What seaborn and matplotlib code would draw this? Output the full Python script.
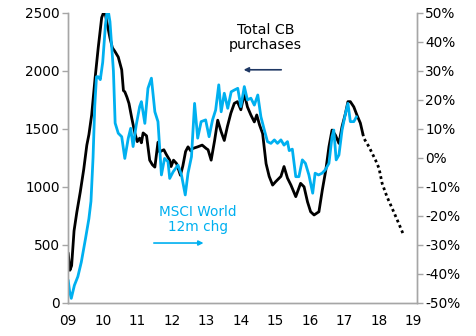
import matplotlib
matplotlib.use("Agg")
import matplotlib.pyplot as plt
import seaborn as sns
import pandas as pd
from matplotlib.ticker import FuncFormatter

# ---- data ----
cb_x = [2009.00, 2009.05, 2009.10, 2009.17, 2009.25, 2009.35, 2009.45, 2009.54, 2009.60,
        2009.68, 2009.78, 2009.87, 2009.97, 2010.02, 2010.07, 2010.14, 2010.21, 2010.28,
        2010.35, 2010.45, 2010.55, 2010.60, 2010.64, 2010.70, 2010.76, 2010.84, 2010.93,
        2011.00, 2011.07, 2011.12, 2011.17, 2011.27, 2011.36, 2011.44, 2011.51, 2011.60,
        2011.65, 2011.70, 2011.77, 2011.84, 2011.94, 2011.98, 2012.05, 2012.14, 2012.25,
        2012.32, 2012.40, 2012.47, 2012.55, 2012.60, 2012.75, 2012.88, 2013.00, 2013.05,
        2013.14, 2013.24, 2013.33, 2013.43, 2013.52, 2013.61, 2013.71, 2013.81, 2013.90,
        2014.00, 2014.10, 2014.19, 2014.29, 2014.39, 2014.46, 2014.54, 2014.63, 2014.73,
        2014.82, 2014.92, 2015.01, 2015.16, 2015.25, 2015.35, 2015.45, 2015.59, 2015.73,
        2015.83, 2015.93, 2016.02, 2016.12, 2016.26, 2016.36, 2016.46, 2016.55, 2016.64,
        2016.74, 2016.84, 2016.93, 2017.03, 2017.10, 2017.17, 2017.27, 2017.36, 2017.46,
        2017.53]
cb_val = [430, 280, 320, 620, 780, 955, 1150, 1360, 1450,
          1620, 1940, 2200, 2460, 2500, 2500, 2390, 2285, 2200,
          2170, 2120, 2010, 1830, 1820, 1775, 1720, 1595, 1465,
          1390, 1420, 1380, 1465, 1440, 1230, 1190, 1170, 1385,
          1300, 1310, 1320, 1280, 1230, 1175, 1230, 1200, 1100,
          1180, 1305, 1345, 1310, 1330, 1345, 1360, 1330, 1320,
          1230, 1400, 1575, 1475, 1400, 1520, 1635, 1720, 1735,
          1665, 1805, 1690, 1620, 1560, 1620, 1535, 1460, 1200,
          1090, 1015, 1045, 1090, 1175, 1075, 1015, 915, 1030,
          1000, 870, 785, 757, 785, 975, 1145, 1345, 1490,
          1445, 1375, 1520, 1635, 1735, 1735, 1690, 1620, 1550,
          1460]

fc_x = [2017.53, 2017.56, 2017.71, 2017.90, 2018.00, 2018.09, 2018.23, 2018.38, 2018.57, 2018.71]
fc_val = [1460, 1420, 1345, 1230, 1160, 1030, 915, 815, 685, 585]

msci_x = [2009.00, 2009.04, 2009.09, 2009.18, 2009.28, 2009.38, 2009.50, 2009.60, 2009.66,
          2009.72, 2009.77, 2009.82, 2009.87, 2009.93, 2010.00, 2010.08, 2010.12, 2010.17,
          2010.21, 2010.31, 2010.36, 2010.45, 2010.55, 2010.64, 2010.74, 2010.81, 2010.88,
          2010.97, 2011.07, 2011.12, 2011.22, 2011.31, 2011.41, 2011.51, 2011.60, 2011.70,
          2011.79, 2011.89, 2011.94, 2012.04, 2012.18, 2012.28, 2012.39, 2012.47, 2012.57,
          2012.66, 2012.75, 2012.85, 2012.98, 2013.08, 2013.18, 2013.27, 2013.36, 2013.43,
          2013.52, 2013.62, 2013.72, 2013.81, 2013.91, 2014.00, 2014.10, 2014.19, 2014.29,
          2014.39, 2014.49, 2014.58, 2014.68, 2014.77, 2014.87, 2014.97, 2015.06, 2015.16,
          2015.25, 2015.35, 2015.40, 2015.49, 2015.59, 2015.68, 2015.78, 2015.87, 2015.97,
          2016.08, 2016.15, 2016.25, 2016.35, 2016.44, 2016.55, 2016.64, 2016.69, 2016.76,
          2016.84, 2016.93, 2017.03, 2017.10, 2017.17, 2017.27, 2017.35]
msci_pct = [-42.2, -46, -48.5, -44, -41, -36, -28, -21, -15,
            0, 18, 28, 28, 27, 33, 46, 50, 50,
            47, 30, 12, 8.5, 7.3, -0.2, 6.8, 10.2, 3.9,
            11.3, 17.7, 19.4, 11.9, 24.0, 27.5, 15.9, 12.5, -5.9,
            -0.2, -1.3, -7.1, -4.8, -2.5, -5.9, -12.8, -5.3, 0.4,
            18.8, 6.8, 12.5, 13.1, 7.3, 13.1, 16.5, 25.2, 15.9,
            22.3, 17.1, 22.8, 23.4, 24.0, 17.7, 24.6, 20.0, 20.6,
            18.2, 21.7, 14.2, 9.6, 5.6, 5.0, 6.2, 5.0, 6.2,
            4.4, 5.6, 2.5, 3.0, -6.5, -6.5, -0.7, -1.9, -5.9,
            -12.2, -5.3, -5.9, -5.3, -4.2, -1.9, 7.3, 9.6, -0.7,
            1.0, 9.6, 15.4, 18.8, 12.5, 12.5, 14.2]

year_ticks = list(range(2009, 2020))
year_labels = ["09", "10", "11", "12", "13", "14", "15", "16", "17", "18", "19"]
left_ticks = [0, 500, 1000, 1500, 2000, 2500]
right_ticks = [-50, -40, -30, -20, -10, 0, 10, 20, 30, 40, 50]

BLUE = "#00B0F0"
NAVY = "#1F3864"
GREY = "#A6A6A6"

sns.set_theme(style="white")
plt.rcParams['font.family'] = ['DejaVu Sans']

cb_df = pd.DataFrame({"x": cb_x, "y": cb_val})
fc_df = pd.DataFrame({"x": fc_x, "y": fc_val})
ms_df = pd.DataFrame({"x": msci_x, "y": msci_pct})

fig = plt.figure(figsize=(4.77, 3.36), dpi=100)
ax = fig.add_axes([68 / 477, 1 - 302.7 / 336, (417 - 68) / 477, (302.7 - 13) / 336])
ax2 = ax.twinx()

sns.lineplot(data=cb_df, x="x", y="y", ax=ax, color="black", lw=2.0, estimator=None, sort=False)
sns.lineplot(data=fc_df, x="x", y="y", ax=ax, color="black", lw=2.0, estimator=None, sort=False,
             linestyle=(0, (1, 1.1)))
sns.lineplot(data=ms_df, x="x", y="y", ax=ax2, color=BLUE, lw=2.0, estimator=None, sort=False)

ax.set_xlim(2009 - 0.005, 2019.1)
ax.set_ylim(0, 2500)
ax2.set_ylim(-50, 50)
ax.set_xticks(year_ticks)
ax.set_xticklabels(year_labels)
ax.set_yticks(left_ticks)
ax2.set_yticks(right_ticks)
ax2.yaxis.set_major_formatter(FuncFormatter(lambda v, p: f"{int(v)}%"))
for a in (ax, ax2):
    a.set_xlabel("")
    a.set_ylabel("")
    a.grid(False)
    for s in a.spines.values():
        s.set_color(GREY)
        s.set_linewidth(1.0)
    a.spines['top'].set_visible(False)
    a.tick_params(axis='both', colors=GREY, labelcolor="black", labelsize=9.8,
                  length=4, width=1, direction='out', pad=2)
ax.tick_params(axis='x', pad=4)

# annotations
ax.text(2014.72, 2290, "Total CB\npurchases", ha="center", va="center", fontsize=10.3,
        color="black", linespacing=1.1)
ax.annotate("", xy=(2014.0, 2010), xytext=(2015.25, 2010),
            arrowprops=dict(arrowstyle="-|>", color=NAVY, lw=1.2, mutation_scale=7))
ax.text(2012.75, 720, "MSCI World\n12m chg", ha="center", va="center", fontsize=9.8,
        color=BLUE, linespacing=1.1)
ax.annotate("", xy=(2013.0, 515), xytext=(2011.4, 515),
            arrowprops=dict(arrowstyle="-|>", color=BLUE, lw=1.2, mutation_scale=7))

fig.savefig("out.png", dpi=100)
